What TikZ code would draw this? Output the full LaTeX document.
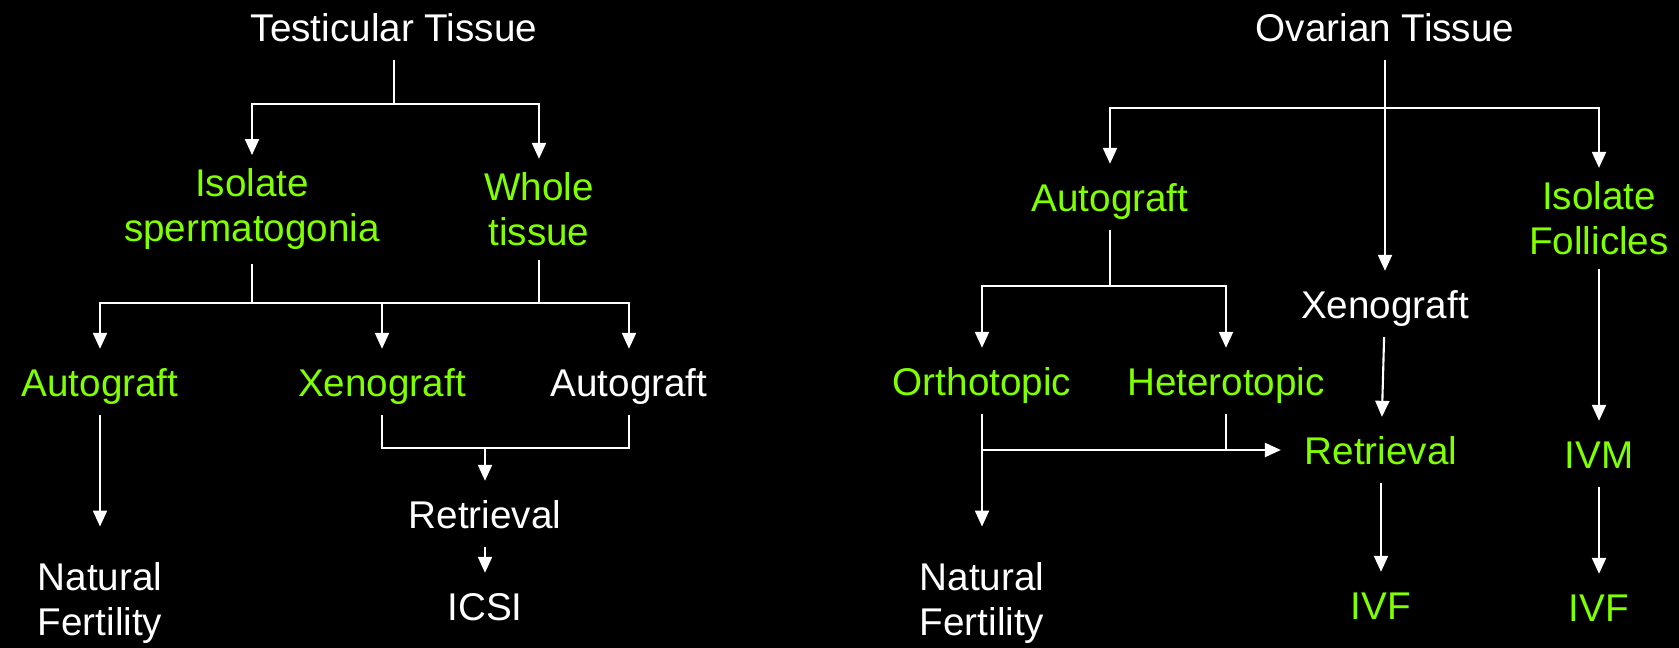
\documentclass[tikz,border=0pt]{standalone}
\usepackage{fontspec}
\setmainfont{Liberation Sans}
\usetikzlibrary{arrows.meta}
\definecolor{leaf}{RGB}{128,255,0}

\begin{document}
\begin{tikzpicture}[
    x=0.02cm, y=-0.02cm,
    font=\fontsize{22pt}{25.6pt}\selectfont,
    tissue/.style={text=white, inner xsep=2pt, inner ysep=0.27cm, text height=19pt, text depth=3pt},
    method/.style={tissue, text=leaf},
    two/.style={align=center, text height=, text depth=, yshift=-2.5pt},
    link/.style={draw=white, line width=1.2pt},
    flow/.style={link, -{Triangle[width=0.28cm, length=0.32cm]}}
]
\useasboundingbox (0,0) rectangle (1679,648);
\fill[black] (0,0) rectangle (1679,648);

% Testicular side
\node[tissue] (tt) at (394,27) {Testicular Tissue};
\node[method, two] (isl) at (252,205) {Isolate\\spermatogonia};
\node[method, two] (who) at (539,205) {Whole\\tissue};
\node[method] (ag1) at (100,382) {Autograft};
\node[method] (xg1) at (382,382) {Xenograft};
\node[tissue] (ag2) at (629,382) {Autograft};
\node[tissue, two] (nf1) at (100,599) {Natural\\Fertility};
\node[tissue] (ret1) at (485,514) {Retrieval};
\node[tissue] (icsi) at (485,606) {ICSI};

\coordinate (j0) at (394,104);
\coordinate (j1) at (382,303);
\coordinate (j2) at (485,448);
\draw[link] (tt) -- (j0);
\draw[flow] (j0) -| (isl);
\draw[flow] (j0) -| (who);
\draw[link] (isl) |- (j1);
\draw[link] (who) |- (j1);
\draw[flow] (j1) -| (ag1);
\draw[flow] (j1) -- (xg1);
\draw[flow] (j1) -| (ag2);
\draw[flow, shorten >=0.45cm] (ag1) -- (nf1);
\draw[link] (xg1) |- (j2);
\draw[link] (ag2) |- (j2);
\draw[flow] (j2) -- (ret1);
\draw[flow] (ret1) -- (icsi);

% Ovarian side
\node[tissue] (ot) at (1385,27) {Ovarian Tissue};
\node[method] (ag3) at (1110,197) {Autograft};
\node[method, two] (fol) at (1599,214) {Isolate\\Follicles};
\node[tissue] (xg2) at (1385,304) {Xenograft};
\node[method] (ort) at (982,381) {Orthotopic};
\node[method] (het) at (1226,381) {Heterotopic};
\node[method] (ret2) at (1381,450) {Retrieval};
\node[tissue, two] (nf2) at (982,599) {Natural\\Fertility};
\node[method] (ivf1) at (1381,605) {IVF};
\node[method] (ivm) at (1599,454) {IVM};
\node[method] (ivf2) at (1599,607) {IVF};

\coordinate (k0) at (1385,108);
\coordinate (k1) at (1110,286);
\coordinate (k2) at (982,450);
\draw[flow] (ot) -- (xg2);
\draw[flow] (k0) -| (ag3);
\draw[flow] (k0) -| (fol);
\draw[link] (ag3) -- (k1);
\draw[flow] (k1) -| (ort);
\draw[flow] (k1) -| (het);
\draw[flow, shorten >=0.45cm] (ort) -- (nf2);
\draw[flow, shorten >=0.4cm] (k2) -- (ret2);
\draw[link] (het) -- (het |- k2);
\draw[flow] (xg2) -- (ret2);
\draw[flow] (ret2) -- (ivf1);
\draw[flow] (fol) -- (ivm);
\draw[flow] (ivm) -- (ivf2);

\end{tikzpicture}
\end{document}
